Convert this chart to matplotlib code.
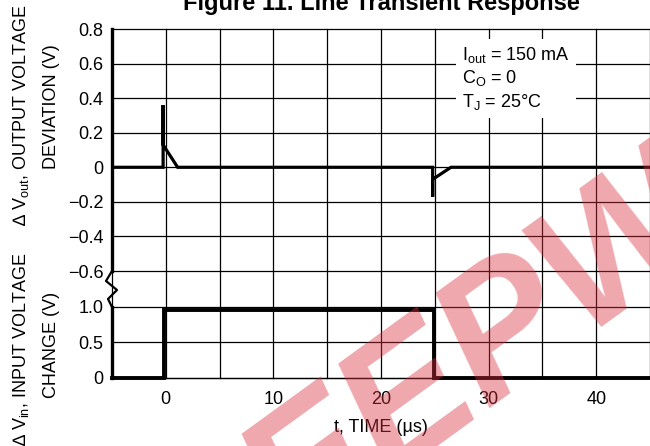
import matplotlib
matplotlib.use("Agg")
import matplotlib.pyplot as plt
from matplotlib.lines import Line2D

plt.rcParams['font.family'] = ['Liberation Sans', 'DejaVu Sans']
plt.rcParams['mathtext.fontset'] = 'custom'
plt.rcParams['mathtext.rm'] = 'Liberation Sans'
plt.rcParams['mathtext.it'] = 'Liberation Sans'
plt.rcParams['axes.unicode_minus'] = True

# ---------------- data ----------------
t_out = [-5, -0.25, -0.25, -0.25, 1.1, 24.8, 24.8, 24.8, 26.5, 45]
v_out = [0, 0, 0.36, 0.13, 0, 0, -0.17, -0.07, 0, 0]

t_in = [-5, -0.2, -0.2, 24.9, 24.9, 45]
v_in = [0, 0, 0.95, 0.95, 0, 0]

x_ticks = [-5, 0, 5, 10, 15, 20, 25, 30, 35, 40, 45]
x_labels = ['', '0', '', '10', '', '20', '', '30', '', '40', '']
y_out_ticks = [-0.6, -0.4, -0.2, 0, 0.2, 0.4, 0.6, 0.8]
y_out_labels = ['\u22120.6', '\u22120.4', '\u22120.2', '0', '0.2', '0.4', '0.6', '0.8']
y_in_ticks = [0, 0.5, 1.0]
y_in_labels = ['0', '0.5', '1.0']

title = 'Figure 11. Line Transient Response'
cond_text = ('I$_{\\mathrm{out}}$ = 150 mA\n'
             'C$_{\\mathrm{O}}$ = 0\n'
             'T$_{\\mathrm{J}}$ = 25\u00b0C')
ylabel_out = ['\u2206 V$_{\\mathrm{out}}$, OUTPUT VOLTAGE', 'DEVIATION (V)']
ylabel_in = ['\u2206 V$_{\\mathrm{in}}$, INPUT VOLTAGE', 'CHANGE (V)']
xlabel = 't, TIME (\u00b5s)'

# ---------------- figure ----------------
W, H = 650, 446
fig = plt.figure(figsize=(6.5, 4.46), dpi=100)

def fx(px):
    return px / W

def fy(py):
    return 1 - py / H

left, right = fx(112), 1.0
ax1 = fig.add_axes([left, fy(271), right - left, fy(29) - fy(271)])
ax2 = fig.add_axes([left, fy(378), right - left, fy(271) - fy(378)])
ax2.patch.set_alpha(0)

fs = 13
for ax in (ax1, ax2):
    ax.set_xlim(-5, 45)
    ax.set_xticks(x_ticks)
    ax.grid(True, color='black', lw=0.9)
    ax.tick_params(length=0, labelsize=fs, pad=6)
    for s in ('top', 'right', 'bottom'):
        ax.spines[s].set_visible(False)
    ax.spines['left'].set_linewidth(2.4)

ax1.set_ylim(-0.6, 0.8)
ax1.set_yticks(y_out_ticks)
ax1.set_yticklabels(y_out_labels)
ax1.set_xticklabels([''] * len(x_ticks))
ax1.plot(t_out, v_out, color='black', lw=2.3, solid_joinstyle='miter', zorder=3)

ax2.set_ylim(0, 1.5)
ax2.set_yticks(y_in_ticks)
ax2.set_yticklabels(y_in_labels)
ax2.set_xticklabels(x_labels)
ax2.tick_params(axis='x', pad=9)
ax2.spines['left'].set_bounds(0, 1.0)
ax2.spines['bottom'].set_visible(True)
ax2.spines['bottom'].set_linewidth(0.9)
ax2.plot(t_in, v_in, color='black', lw=2.8, solid_joinstyle='miter', zorder=3, clip_on=False)

for ax in (ax1, ax2):
    for gl in ax.get_ygridlines() + ax.get_xgridlines():
        gl.set_clip_on(False)

# axis break zigzag
zx = [112, 106, 117, 108, 112]
zy = [271, 281, 290, 299, 307]
fig.add_artist(Line2D([fx(v) for v in zx], [fy(v) for v in zy],
                      color='black', lw=1.6, transform=fig.transFigure))

# condition box
ax1.text((462 - 112) / (W - 112), 1 - (45 - 29) / 242, cond_text,
         transform=ax1.transAxes, ha='left', va='top', fontsize=fs,
         linespacing=1.22, zorder=5,
         bbox=dict(boxstyle='square,pad=0.35', fc='white', ec='none'))

# axis labels
fig.text(fx(21), fy(115), ylabel_out[0], rotation=90, ha='center', va='center', fontsize=fs)
fig.text(fx(51), fy(107), ylabel_out[1], rotation=90, ha='center', va='center', fontsize=fs)
fig.text(fx(21), fy(349), ylabel_in[0], rotation=90, ha='center', va='center', fontsize=fs)
fig.text(fx(51), fy(345), ylabel_in[1], rotation=90, ha='center', va='center', fontsize=fs)
fig.text(fx(381), fy(427), xlabel, ha='center', va='center', fontsize=fs)
fig.text(fx(381), fy(10), title, ha='center', va='baseline', fontsize=17,
         fontweight='bold')

# watermark
fig.text(fx(480), fy(355), 'EEPW', rotation=36, ha='center', va='center',
         fontsize=130, fontweight='bold', fontstyle='italic',
         color='#d9303c', alpha=0.42, zorder=10)

fig.savefig('out.png', dpi=100)
